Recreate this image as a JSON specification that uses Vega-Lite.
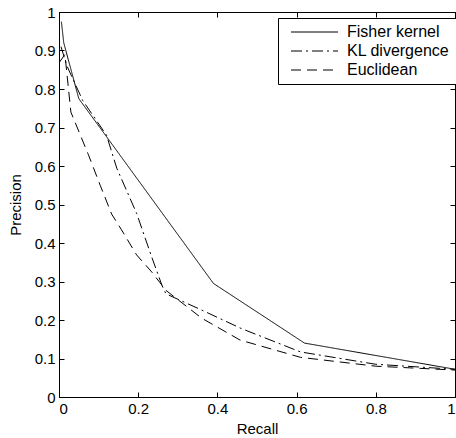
{
  "$schema": "https://vega.github.io/schema/vega-lite/v6.json",
  "width": 396,
  "height": 385,
  "autosize": {"type": "none"},
  "padding": {"left": 59, "top": 12, "right": 1, "bottom": 41},
  "background": "white",
  "config": {
    "font": "Liberation Sans",
    "view": {"stroke": "black", "strokeWidth": 1},
    "axis": {
      "grid": false,
      "domainColor": "black",
      "tickColor": "black",
      "labelColor": "black",
      "titleColor": "black",
      "labelFont": "Liberation Sans",
      "titleFont": "Liberation Sans",
      "labelFontSize": 15,
      "titleFontSize": 15,
      "titleFontWeight": "normal",
      "tickSize": -5,
      "labelPadding": 9
    }
  },
  "data": {
    "values": [
      {"series": "Fisher kernel", "o": 1, "recall": 0.006, "precision": 0.975},
      {"series": "Fisher kernel", "o": 2, "recall": 0.012, "precision": 0.92},
      {"series": "Fisher kernel", "o": 3, "recall": 0.05, "precision": 0.775},
      {"series": "Fisher kernel", "o": 4, "recall": 0.39, "precision": 0.295},
      {"series": "Fisher kernel", "o": 5, "recall": 0.62, "precision": 0.14},
      {"series": "Fisher kernel", "o": 6, "recall": 1.0, "precision": 0.072},

      {"series": "KL divergence", "o": 1, "recall": 0.005, "precision": 0.91},
      {"series": "KL divergence", "o": 2, "recall": 0.02, "precision": 0.86},
      {"series": "KL divergence", "o": 3, "recall": 0.06, "precision": 0.77},
      {"series": "KL divergence", "o": 4, "recall": 0.12, "precision": 0.68},
      {"series": "KL divergence", "o": 5, "recall": 0.146, "precision": 0.594},
      {"series": "KL divergence", "o": 6, "recall": 0.196, "precision": 0.477},
      {"series": "KL divergence", "o": 7, "recall": 0.234, "precision": 0.364},
      {"series": "KL divergence", "o": 8, "recall": 0.26, "precision": 0.29},
      {"series": "KL divergence", "o": 9, "recall": 0.27, "precision": 0.268},
      {"series": "KL divergence", "o": 10, "recall": 0.36, "precision": 0.226},
      {"series": "KL divergence", "o": 11, "recall": 0.46, "precision": 0.178},
      {"series": "KL divergence", "o": 12, "recall": 0.61, "precision": 0.117},
      {"series": "KL divergence", "o": 13, "recall": 0.8, "precision": 0.085},
      {"series": "KL divergence", "o": 14, "recall": 1.0, "precision": 0.072},

      {"series": "Euclidean", "o": 1, "recall": 0.0, "precision": 0.868},
      {"series": "Euclidean", "o": 2, "recall": 0.015, "precision": 0.89},
      {"series": "Euclidean", "o": 3, "recall": 0.03, "precision": 0.74},
      {"series": "Euclidean", "o": 4, "recall": 0.074, "precision": 0.63},
      {"series": "Euclidean", "o": 5, "recall": 0.104, "precision": 0.55},
      {"series": "Euclidean", "o": 6, "recall": 0.133, "precision": 0.475},
      {"series": "Euclidean", "o": 7, "recall": 0.158, "precision": 0.434},
      {"series": "Euclidean", "o": 8, "recall": 0.196, "precision": 0.369},
      {"series": "Euclidean", "o": 9, "recall": 0.234, "precision": 0.325},
      {"series": "Euclidean", "o": 10, "recall": 0.27, "precision": 0.277},
      {"series": "Euclidean", "o": 11, "recall": 0.36, "precision": 0.205},
      {"series": "Euclidean", "o": 12, "recall": 0.457, "precision": 0.148},
      {"series": "Euclidean", "o": 13, "recall": 0.61, "precision": 0.103},
      {"series": "Euclidean", "o": 14, "recall": 0.8, "precision": 0.08},
      {"series": "Euclidean", "o": 15, "recall": 1.0, "precision": 0.07}
    ]
  },
  "layer": [
    {
      "mark": {"type": "line", "color": "black", "strokeWidth": 1, "clip": true},
      "encoding": {
        "x": {
          "field": "recall", "type": "quantitative", "title": "Recall",
          "scale": {"domain": [0, 1], "nice": false, "zero": false},
          "axis": {"orient": "bottom", "values": [0, 0.2, 0.4, 0.6, 0.8, 1], "format": ".1~f", "titlePadding": 5}
        },
        "y": {
          "field": "precision", "type": "quantitative", "title": "Precision",
          "scale": {"domain": [0, 1], "nice": false, "zero": false},
          "axis": {"orient": "left", "values": [0, 0.1, 0.2, 0.3, 0.4, 0.5, 0.6, 0.7, 0.8, 0.9, 1], "format": ".1~f", "titlePadding": 11}
        },
        "order": {"field": "o", "type": "quantitative"},
        "strokeDash": {
          "field": "series", "type": "nominal",
          "scale": {
            "domain": ["Fisher kernel", "KL divergence", "Euclidean"],
            "range": [[1, 0], [11, 4, 2, 4], [10, 6]]
          },
          "legend": {
            "title": null,
            "orient": "none",
            "legendX": 219,
            "legendY": 6,
            "symbolType": "M-0.2,0H9.2",
            "symbolSize": 100,
            "symbolStrokeColor": "black",
            "symbolStrokeWidth": 1,
            "labelFont": "Liberation Sans",
            "labelFontSize": 16,
            "labelColor": "black",
            "labelOffset": 47,
            "rowPadding": 3,
            "padding": 6,
            "strokeColor": "black",
            "fillColor": "white",
            "cornerRadius": 0
          }
        }
      }
    },
    {
      "mark": {"type": "point", "opacity": 0},
      "encoding": {
        "x": {
          "field": "recall", "type": "quantitative",
          "axis": {"orient": "top", "values": [0, 0.2, 0.4, 0.6, 0.8, 1], "labels": false, "title": null}
        },
        "y": {
          "field": "precision", "type": "quantitative",
          "axis": {"orient": "right", "values": [0, 0.1, 0.2, 0.3, 0.4, 0.5, 0.6, 0.7, 0.8, 0.9, 1], "labels": false, "title": null}
        }
      }
    }
  ],
  "resolve": {"axis": {"x": "independent", "y": "independent"}}
}
